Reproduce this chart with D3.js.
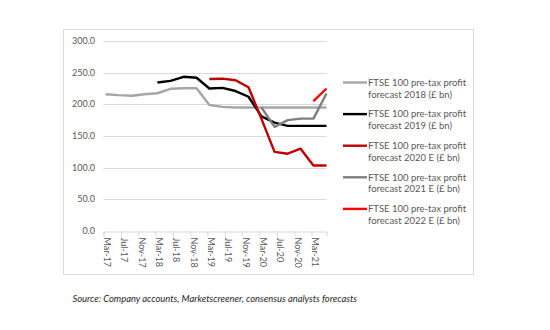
<!DOCTYPE html>
<html>
<head>
<meta charset="utf-8">
<script src="https://cdn.jsdelivr.net/npm/d3@7"></script>
<style>
  body { margin: 0; background: #fff; }
  svg { font-family: Lato, "Liberation Sans", sans-serif; }
</style>
</head>
<body>
<svg id="chart" width="550" height="330"></svg>
<script>
// quarterly observation dates
let quarters = ['Mar-17', 'Jun-17', 'Sep-17', 'Dec-17', 'Mar-18', 'Jun-18', 'Sep-18', 'Dec-18',
  'Mar-19', 'Jun-19', 'Sep-19', 'Dec-19', 'Mar-20', 'Jun-20', 'Sep-20', 'Dec-20', 'Mar-21', 'Jun-21'];

// axis labels, every four months
let tickLabels = ['Mar-17', 'Jul-17', 'Nov-17', 'Mar-18', 'Jul-18', 'Nov-18', 'Mar-19',
  'Jul-19', 'Nov-19', 'Mar-20', 'Jul-20', 'Nov-20', 'Mar-21'];

let yTicks = [0, 50, 100, 150, 200, 250, 300];

// profit forecasts, £ bn (null = no forecast yet)
let forecast2018 = [216, 214.5, 213.5, 216, 217.5, 224.5, 225.5, 225.5, 199, 196, 195, 195, 195, 195, 195, 195, 195, 195];
let forecast2019 = [null, null, null, null, 234.5, 237, 243.5, 242, 225, 226, 221, 212, 181, 171, 166, 166, 166, 166];
let forecast2020 = [null, null, null, null, null, null, null, null, 240, 240.5, 238, 227, 177, 125, 122, 130, 103.5, 103.5];
let forecast2021 = [null, null, null, null, null, null, null, null, null, null, null, null, 195, 164.5, 175, 177.5, 177.5, 217];
let forecast2022 = [null, null, null, null, null, null, null, null, null, null, null, null, null, null, null, null, 205, 225];

let seriesNames = [
  ['FTSE 100 pre-tax profit', 'forecast 2018 (£ bn)'],
  ['FTSE 100 pre-tax profit', 'forecast 2019  (£ bn)'],
  ['FTSE 100 pre-tax profit', 'forecast 2020 E (£ bn)'],
  ['FTSE 100 pre-tax profit', 'forecast 2021 E (£ bn)'],
  ['FTSE 100 pre-tax profit', 'forecast 2022 E (£ bn)']
];
let seriesColors = ['#a6a6a6', '#000000', '#c00000', '#7f7f7f', '#ff0000'];
let seriesValues = [forecast2018, forecast2019, forecast2020, forecast2021, forecast2022];

let svg = d3.select('#chart');
let parseMonth = d3.timeParse('%b-%y');
// points sit mid-month
let quarterDates = quarters.map(q => d3.timeDay.offset(parseMonth(q), 14));

// chart frame
svg.append('rect')
  .attr('x', 63.5).attr('y', 29.5)
  .attr('width', 410).attr('height', 245)
  .attr('fill', 'none')
  .attr('stroke', '#d9d9d9');

let x = d3.scaleTime()
  .domain([parseMonth('Mar-17'), d3.timeDay.offset(parseMonth('Jun-21'), 14)])
  .range([103.5, 326.5]);

let y = d3.scaleLinear()
  .domain([0, 300])
  .range([231, 41]);

// horizontal gridlines
svg.append('g')
  .selectAll('line')
  .data(yTicks.filter(d => d > 0))
  .enter()
  .append('line')
  .attr('x1', x.range()[0]).attr('x2', x.range()[1])
  .attr('y1', d => Math.round(y(d)) + 0.5)
  .attr('y2', d => Math.round(y(d)) + 0.5)
  .attr('stroke', '#d9d9d9');

// y labels
svg.append('g')
  .selectAll('text')
  .data(yTicks)
  .enter()
  .append('text')
  .attr('x', 95)
  .attr('y', d => y(d))
  .attr('dy', '0.35em')
  .attr('text-anchor', 'end')
  .attr('font-size', '9px')
  .attr('fill', '#595959')
  .text(d => d.toFixed(1));

// x axis
let xAxis = d3.axisBottom(x)
  .tickValues(tickLabels.map(parseMonth))
  .tickSize(5)
  .tickFormat(d3.timeFormat('%b-%y'));

let gx = svg.append('g')
  .attr('transform', 'translate(0,' + (Math.round(y(0)) + 0.5) + ')')
  .call(xAxis);

gx.select('.domain').attr('stroke', '#d9d9d9');
gx.selectAll('.tick line').attr('stroke', '#d9d9d9');
gx.selectAll('.tick text')
  .attr('font-size', '9px')
  .attr('font-family', 'Lato, sans-serif')
  .attr('fill', '#595959')
  .attr('text-anchor', 'start')
  .attr('x', 6)
  .attr('y', 0)
  .attr('dx', 0)
  .attr('transform', 'translate(3,0) rotate(90)')
  .attr('dy', '0.35em');

// forecast lines
let line = d3.line()
  .defined(d => d.v !== null)
  .x(d => x(d.date))
  .y(d => y(d.v));

svg.append('g')
  .selectAll('path')
  .data(seriesValues)
  .enter()
  .append('path')
  .attr('d', vals => line(vals.map((v, i) => ({ date: quarterDates[i], v: v }))))
  .attr('fill', 'none')
  .attr('stroke', (d, i) => seriesColors[i])
  .attr('stroke-width', 2.4)
  .attr('stroke-linejoin', 'round');

// legend
let legend = svg.append('g')
  .selectAll('g')
  .data(seriesNames)
  .enter()
  .append('g')
  .attr('transform', (d, i) => 'translate(343,' + (82.5 + i * 31.6) + ')');

legend.append('line')
  .attr('x1', 0).attr('x2', 24)
  .attr('stroke', (d, i) => seriesColors[i])
  .attr('stroke-width', 2.4);

legend.append('text')
  .attr('x', 25)
  .attr('font-size', '9.5px')
  .attr('fill', '#595959')
  .selectAll('tspan')
  .data(d => d)
  .enter()
  .append('tspan')
  .attr('x', 25)
  .attr('y', (d, i) => i * 11.8)
  .attr('dy', '0.35em')
  .text(d => d);

// source note
svg.append('text')
  .attr('x', 72.5)
  .attr('y', 302)
  .attr('font-size', '9.4px')
  .attr('font-style', 'italic')
  .attr('fill', '#262626')
  .text('Source: Company accounts, Marketscreener, consensus analysts forecasts');
</script>
</body>
</html>
